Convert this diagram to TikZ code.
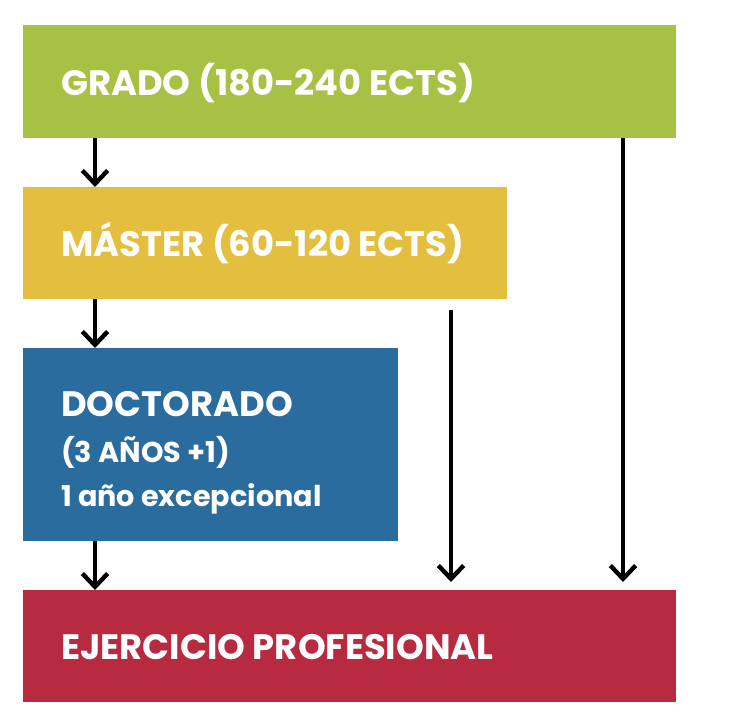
\documentclass[tikz,border=0pt]{standalone}
\usepackage{fontspec}
\setmainfont{Poppins}
\usetikzlibrary{arrows.meta}
\definecolor{cgrado}{RGB}{166,193,68}
\definecolor{cmaster}{RGB}{228,190,62}
\definecolor{cdoc}{RGB}{42,108,158}
\definecolor{cejer}{RGB}{183,42,64}
\begin{document}
\begin{tikzpicture}[x=0.75pt,y=-0.75pt,
  box/.style={draw=none,anchor=north west,inner sep=0pt,outer sep=0pt},
  lbl/.style={anchor=west,text=white,inner sep=0pt,font=\bfseries\fontsize{26.5}{30}\selectfont},
  arr/.style={line width=3.3pt,-{Straight Barb[length=10pt,width=19pt,line width=3.3pt]}}]
\useasboundingbox[fill=white] (0,0) rectangle (756,722);
\node[box,fill=cgrado,minimum width=653*0.75pt,minimum height=113*0.75pt] (grado) at (23,25) {};
\node[box,fill=cmaster,minimum width=484*0.75pt,minimum height=112*0.75pt] (master) at (23,187) {};
\node[box,fill=cdoc,minimum width=375*0.75pt,minimum height=193*0.75pt] (doc) at (23,348) {};
\node[box,fill=cejer,minimum width=653*0.75pt,minimum height=112*0.75pt] (ejer) at (23,590) {};
\node[lbl] (tg) at (61,83) {GRADO (180-240 ECTS)};
\node[lbl] (tm) at (61,243) {MÁSTER (60-120 ECTS)};
\node[lbl] (td1) at (61,404) {DOCTORADO};
\node[lbl,font=\bfseries\fontsize{21.5}{24}\selectfont] (td2) at (61,452) {(3 AÑOS +1)};
\node[lbl,font=\bfseries\fontsize{21.5}{24}\selectfont] (td3) at (61,499) {1 año excepcional};
\node[lbl] (te) at (61,647) {EJERCICIO PROFESIONAL};
\coordinate (m0) at (451,310);
\coordinate (e1) at (451,582);
\coordinate (e2) at (623,582);
\draw[arr] (grado.south -| 95,0) -- (master.north -| 95,0);
\draw[arr] (master.south -| 95,0) -- (doc.north -| 95,0);
\draw[arr] (doc.south -| 95,0) -- (ejer.north -| 95,0);
\draw[arr] (m0) -- (e1);
\draw[arr] (grado.south -| e2) -- (e2);
\end{tikzpicture}
\end{document}
